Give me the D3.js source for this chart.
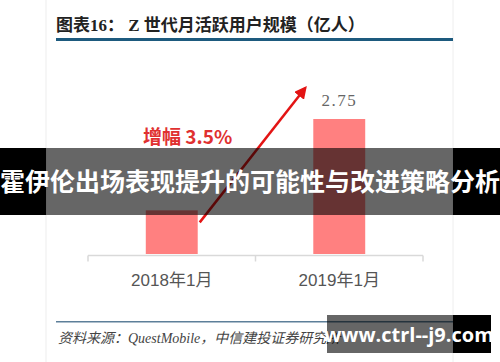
<!DOCTYPE html>
<html>
<head>
<meta charset="utf-8">
<script src="https://cdn.jsdelivr.net/npm/d3@7"></script>
<style>
  body { margin: 0; background: #fff; }
  svg { display: block; }
</style>
</head>
<body>
<div id="chart"></div>
<script>
(function(){
  const categories = ['2018年1月', '2019年1月'];
  const users = [2.66, 2.75];          // 亿人
  const valueLabels = ['', '2.75'];    // 2018 label is hidden under the banner
  const growthLabel = '增幅 3.5%';

  const width = 500;
  const height = 362;

  const svg = d3.select('#chart')
    .append('svg')
    .attr('width', width)
    .attr('height', height);

  // card
  svg.append('rect')
    .attr('x', 46).attr('y', -2)
    .attr('width', 407).attr('height', 366)
    .attr('fill', '#fff')
    .attr('stroke', '#eeeeee');

  // title
  svg.append('text')
    .attr('x', 56).attr('y', 31)
    .style('font', 'bold 17px "Liberation Serif", "Noto Sans CJK SC"')
    .attr('fill', '#222')
    .text('图表16：  Z 世代月活跃用户规模（亿人）');

  svg.append('rect')
    .attr('x', 56).attr('y', 38)
    .attr('width', 397).attr('height', 3)
    .attr('fill', '#1d5a7e');

  const x = d3.scaleBand()
    .domain(categories)
    .range([88, 423])
    .paddingInner(0.69)
    .paddingOuter(0.345);

  const y = d3.scaleLinear()
    .domain([2.617, 2.75])
    .range([254, 119]);

  const data = categories.map((c, i) => ({ label: c, value: users[i], text: valueLabels[i] }));

  // bars
  svg.selectAll('.bar')
    .data(data)
    .enter().append('rect')
    .attr('class', 'bar')
    .attr('x', d => x(d.label))
    .attr('y', d => y(d.value))
    .attr('width', x.bandwidth())
    .attr('height', d => y.range()[0] - y(d.value))
    .attr('fill', '#ff8080');

  // value labels
  svg.selectAll('.val')
    .data(data.filter(d => d.text))
    .enter().append('text')
    .attr('class', 'val')
    .attr('x', d => x(d.label) + x.bandwidth() / 2)
    .attr('y', d => y(d.value) - 13)
    .attr('text-anchor', 'middle')
    .style('font', '17px "Liberation Serif"')
    .style('letter-spacing', '1.5px')
    .attr('fill', '#666')
    .text(d => d.text);

  // x axis
  const axis = d3.axisBottom(x).tickSize(0).tickPadding(18);
  const gx = svg.append('g')
    .attr('transform', 'translate(0,' + (y.range()[0] + 1.5) + ')')
    .call(axis);
  gx.select('.domain').remove();
  gx.append('line')
    .attr('x1', 88).attr('x2', 423)
    .attr('stroke', '#d9d9d9').attr('stroke-width', 1.5);
  const edges = [88, 88 + x.step(), 423];
  gx.selectAll('.edge')
    .data(edges)
    .enter().append('line')
    .attr('class', 'edge')
    .attr('x1', d => d).attr('x2', d => d)
    .attr('y1', 0).attr('y2', 6)
    .attr('stroke', '#d9d9d9').attr('stroke-width', 1.5);
  gx.selectAll('.tick text')
    .style('font', '17px "Liberation Sans", "Noto Sans CJK SC"')
    .attr('fill', '#555');

  // growth arrow
  const defs = svg.append('defs');
  defs.append('marker')
    .attr('id', 'head')
    .attr('viewBox', '0 0 10 10')
    .attr('refX', 8).attr('refY', 5)
    .attr('markerWidth', 5).attr('markerHeight', 5)
    .attr('orient', 'auto')
    .append('path')
    .attr('d', 'M0,0 L10,5 L0,10 Z')
    .attr('fill', '#e31414');

  const x0 = x(categories[0]) + x.bandwidth() + 2;
  const y0 = y(users[0]) + 12;
  const x1 = x(categories[1]) - 8;
  const y1 = y(users[1]) - 31;
  svg.append('line')
    .attr('x1', x0).attr('y1', y0)
    .attr('x2', x1).attr('y2', y1)
    .attr('stroke', '#e31414')
    .attr('stroke-width', 2.5)
    .attr('marker-end', 'url(#head)');

  svg.append('text')
    .attr('x', 143).attr('y', 144)
    .style('font', 'bold 19px "Noto Sans CJK SC"')
    .attr('fill', '#e03030')
    .text(growthLabel);

  // footer
  svg.append('rect')
    .attr('x', 56).attr('y', 321)
    .attr('width', 397).attr('height', 1.5)
    .attr('fill', '#5d7f99');

  svg.append('text')
    .attr('x', 58).attr('y', 343)
    .style('font', 'italic 14px "Liberation Serif", "Noto Sans CJK SC"')
    .attr('fill', '#444')
    .text('资料来源：QuestMobile，中信建投证券研究所');

  // overlay banner
  svg.append('rect')
    .attr('x', 0).attr('y', 148)
    .attr('width', width).attr('height', 67)
    .attr('fill', '#000').attr('fill-opacity', 0.6);
  svg.append('rect').attr('x', 0).attr('y', 148).attr('width', 46).attr('height', 67).attr('fill', '#000');
  svg.append('rect').attr('x', 453).attr('y', 148).attr('width', 47).attr('height', 67).attr('fill', '#000');
  svg.append('text')
    .attr('x', width / 2).attr('y', 191)
    .attr('text-anchor', 'middle')
    .style('font', 'bold 25px "Noto Sans CJK SC"')
    .attr('fill', '#fff')
    .text('霍伊伦出场表现提升的可能性与改进策略分析');

  // watermark
  svg.append('rect')
    .attr('x', 327).attr('y', 315)
    .attr('width', 126).attr('height', 38)
    .attr('fill', '#000').attr('fill-opacity', 0.6);
  svg.append('rect')
    .attr('x', 453).attr('y', 315)
    .attr('width', 38).attr('height', 38)
    .attr('fill', '#000');
  svg.append('text')
    .attr('x', 409).attr('y', 342)
    .attr('text-anchor', 'middle')
    .style('font', 'bold 20px "Open Sans", "Noto Sans"')
    .attr('fill', '#fff')
    .text('www.ctrl--j9.com');
})();
</script>
</body>
</html>
